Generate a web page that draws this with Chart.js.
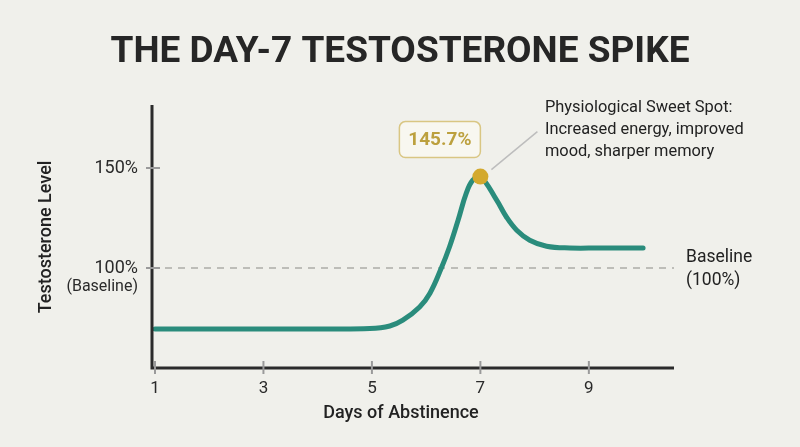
<!DOCTYPE html>
<html>
<head>
<meta charset="utf-8">
<script src="https://cdn.jsdelivr.net/npm/chart.js@4.4.1/dist/chart.umd.min.js"></script>
<style>
  html, body { margin: 0; padding: 0; background: #F0F0EB; }
  #wrap { width: 800px; height: 447px; position: relative; }
</style>
</head>
<body>
<div id="wrap"><canvas id="c" width="800" height="447"></canvas></div>
<script>
// ---- data ----
const days = [1, 2, 3, 4, 4.96, 5.33, 5.57, 5.88, 6.07, 6.28, 6.43, 6.59, 6.74, 6.86, 7, 7.3, 7.48, 7.67, 7.91, 8.22, 8.65, 9.2, 10];
const levels = [69.5, 69.5, 69.5, 69.5, 69.7, 71, 73.9, 80.5, 87.4, 100, 110.5, 124, 137.4, 143.9, 145.7, 133.9, 125.5, 118.9, 113.9, 110.9, 110, 110, 110];
const xTicks = [1, 3, 5, 7, 9];
const yTicks = [100, 150];
const yTickLabels = { 100: '100%', 150: '150%' };
const yTickSubLabels = { 100: '(Baseline)' };
const peakDay = 7;
const peakValue = 145.7;
const baselineValue = 100;
const titleText = 'THE DAY-7 TESTOSTERONE SPIKE';
const xTitle = 'Days of Abstinence';
const yTitle = 'Testosterone Level';
const noteLines = ['Physiological Sweet Spot:', 'Increased energy, improved', 'mood, sharper memory'];
const baselineNote = ['Baseline', '(100%)'];

const FONT = 'Roboto, "Noto Sans", sans-serif';

const decor = {
  id: 'decor',
  beforeDatasetsDraw(chart) {
    const { ctx, scales: { x, y } } = chart;
    ctx.save();
    const by = y.getPixelForValue(baselineValue);
    ctx.strokeStyle = '#BDBDB8';
    ctx.lineWidth = 2;
    ctx.setLineDash([7, 6]);
    ctx.beginPath();
    ctx.moveTo(x.left, by);
    ctx.lineTo(x.right, by);
    ctx.stroke();
    ctx.setLineDash([]);
    ctx.restore();
  },
  afterDraw(chart) {
    const { ctx, scales: { x, y } } = chart;
    ctx.save();
    // Title
    ctx.fillStyle = '#262626';
    ctx.font = 'bold 36px ' + FONT;
    ctx.textAlign = 'left';
    ctx.textBaseline = 'alphabetic';
    const tw = ctx.measureText(titleText).width;
    const targetW = 579;
    ctx.save();
    ctx.translate(400 - targetW / 2, 62);
    ctx.scale(targetW / tw, 1);
    ctx.fillText(titleText, 0, 0);
    ctx.restore();

    // axes lines
    ctx.strokeStyle = '#2b2b2b';
    ctx.lineWidth = 3;
    ctx.beginPath();
    ctx.moveTo(x.left, y.top);
    ctx.lineTo(x.left, y.bottom);
    ctx.lineTo(x.right, y.bottom);
    ctx.stroke();

    // tick marks
    ctx.strokeStyle = '#9a9a9a';
    ctx.lineWidth = 2;
    xTicks.forEach(v => {
      const px = x.getPixelForValue(v);
      ctx.beginPath();
      ctx.moveTo(px, y.bottom - 7);
      ctx.lineTo(px, y.bottom + 6);
      ctx.stroke();
    });
    yTicks.forEach(v => {
      const py = y.getPixelForValue(v);
      ctx.beginPath();
      ctx.moveTo(x.left - 6, py);
      ctx.lineTo(x.left + 8, py);
      ctx.stroke();
    });

    // tick labels
    ctx.fillStyle = '#2a2a2a';
    ctx.font = '17px ' + FONT;
    ctx.textAlign = 'center';
    ctx.textBaseline = 'middle';
    xTicks.forEach(v => {
      ctx.fillText(String(v), x.getPixelForValue(v), y.bottom + 21);
    });
    ctx.textAlign = 'right';
    yTicks.forEach(v => {
      const py = y.getPixelForValue(v);
      ctx.font = '18px ' + FONT;
      ctx.fillText(yTickLabels[v], x.left - 14, py);
      if (yTickSubLabels[v]) {
        ctx.font = '16px ' + FONT;
        ctx.fillText(yTickSubLabels[v], x.left - 14, py + 19);
      }
    });

    // axis titles
    ctx.fillStyle = '#222';
    ctx.font = '500 18px ' + FONT;
    ctx.textAlign = 'center';
    ctx.fillText(xTitle, 401, 413);
    ctx.save();
    ctx.translate(46, 237);
    ctx.rotate(-Math.PI / 2);
    ctx.fillText(yTitle, 0, 0);
    ctx.restore();

    // baseline note
    ctx.fillStyle = '#222';
    ctx.font = '17.5px ' + FONT;
    ctx.textAlign = 'left';
    const by = y.getPixelForValue(baselineValue);
    ctx.fillText(baselineNote[0], 686, by - 10);
    ctx.fillText(baselineNote[1], 686, by + 13);

    // peak marker
    const pxp = x.getPixelForValue(peakDay);
    const pyp = y.getPixelForValue(peakValue);

    ctx.strokeStyle = '#BDBDBD';
    ctx.lineWidth = 1.5;
    ctx.beginPath();
    ctx.moveTo(pxp + 11, pyp - 7);
    ctx.lineTo(pxp + 57, pyp - 45);
    ctx.stroke();

    ctx.fillStyle = '#D3A92E';
    ctx.beginPath();
    ctx.arc(pxp, pyp, 8, 0, Math.PI * 2);
    ctx.fill();

    // value box
    const bx = pxp - 81, byy = pyp - 55, bw = 81, bh = 36;
    ctx.fillStyle = '#F8F7F0';
    ctx.strokeStyle = '#D9C683';
    ctx.lineWidth = 1.5;
    ctx.beginPath();
    ctx.roundRect(bx, byy, bw, bh, 6);
    ctx.fill();
    ctx.stroke();
    ctx.fillStyle = '#BCA03E';
    ctx.font = 'bold 19px ' + FONT;
    ctx.textAlign = 'center';
    ctx.textBaseline = 'middle';
    ctx.fillText(peakValue.toFixed(1) + '%', bx + bw / 2, byy + bh / 2 + 1);

    // note text
    ctx.fillStyle = '#222';
    ctx.font = '16.4px ' + FONT;
    ctx.textAlign = 'left';
    noteLines.forEach((t, i) => ctx.fillText(t, 545, 108 + i * 22));

    ctx.restore();
  }
};

new Chart(document.getElementById('c'), {
  type: 'line',
  data: {
    datasets: [{
      data: days.map((d, i) => ({ x: d, y: levels[i] })),
      borderColor: '#2A8C7C',
      borderWidth: 5,
      borderCapStyle: 'round',
      borderJoinStyle: 'round',
      pointRadius: 0,
      tension: 0.4,
      fill: false
    }]
  },
  options: {
    responsive: false,
    animation: false,
    devicePixelRatio: 1,
    layout: { padding: { left: 0, right: 126, top: 105, bottom: 0 } },
    plugins: { legend: { display: false }, tooltip: { enabled: false }, title: { display: false } },
    scales: {
      x: {
        type: 'linear', min: 0.945, max: 10.57,
        grid: { display: false }, border: { display: false },
        ticks: { display: false },
        afterFit(s) { s.height = 79; }
      },
      y: {
        min: 50, max: 181.5,
        grid: { display: false }, border: { display: false },
        ticks: { display: false },
        afterFit(s) { s.width = 152; }
      }
    }
  },
  plugins: [decor]
});
</script>
</body>
</html>
